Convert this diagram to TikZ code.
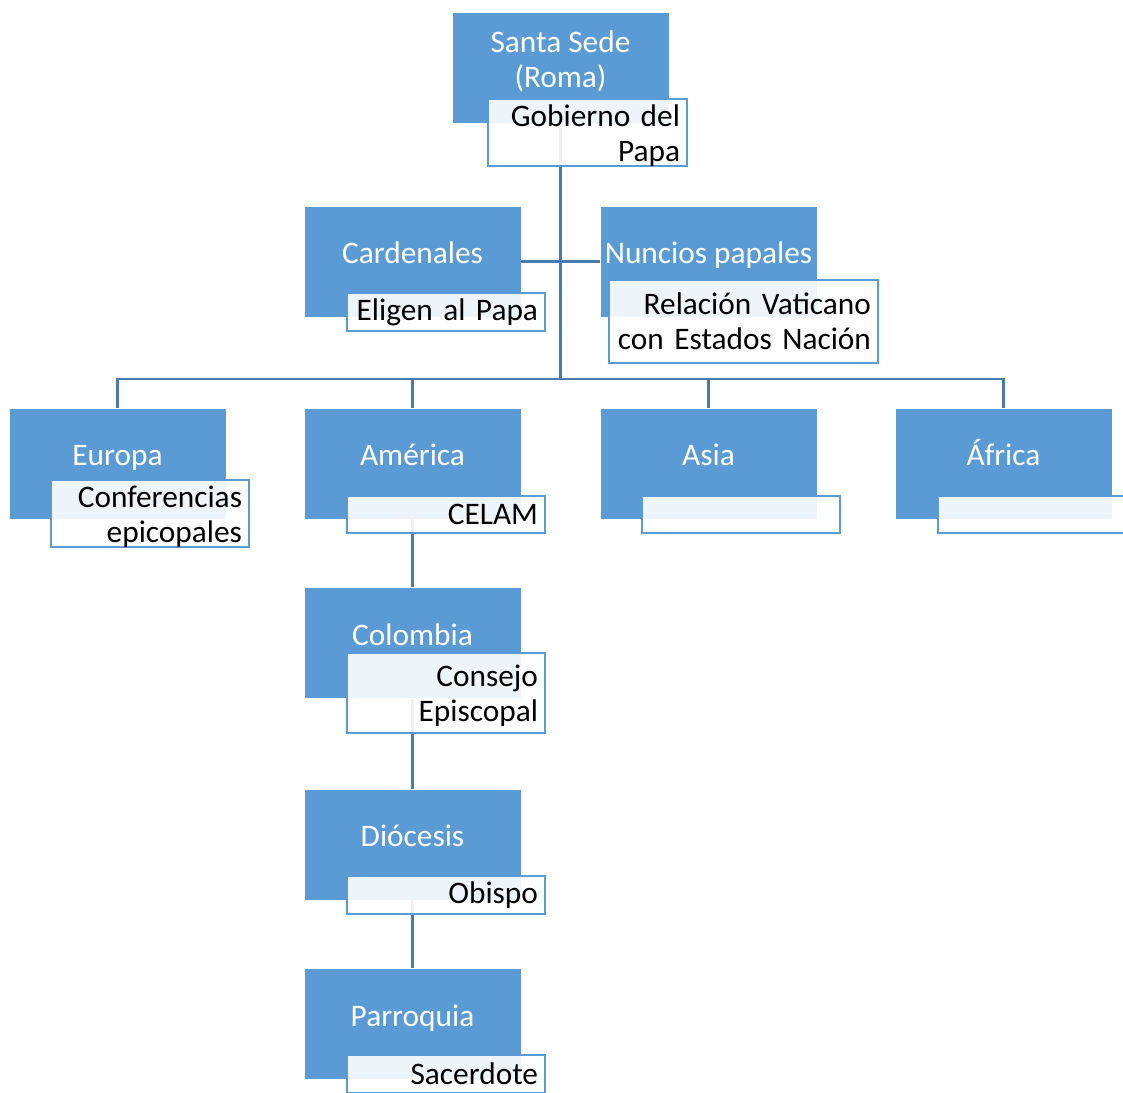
\documentclass[tikz,border=0pt]{standalone}
\usepackage{fontspec}
\setmainfont{Carlito}
\definecolor{accent}{HTML}{5B9BD5}
\definecolor{conn}{HTML}{4A7AB0}
\tikzset{
  bluebox/.style={fill=accent, draw=white, line width=0.5pt, minimum width=162.75pt, minimum height=83.25pt, inner sep=0pt},
  wtext/.style={text=white, font=\fontsize{23.5}{26.25}\selectfont, align=center, inner sep=0pt},
  wtextone/.style={wtext, text height=16pt, text depth=0pt},
  subbox/.style={draw=accent, line width=1.5pt, fill=white, fill opacity=0.9, text opacity=1, align=right, inner xsep=5.25pt, inner ysep=0pt, font=\fontsize{23.5}{26.25}\selectfont, text width=138pt, minimum height=28.5pt},
  subtwo/.style={subbox, text height=20.5pt},
  conline/.style={draw=conn, line width=2pt},
}
\begin{document}
\begin{tikzpicture}[x=0.75pt,y=-0.75pt]
\useasboundingbox (0,0) rectangle (1123,1092);
% blue boxes
\node[bluebox] (sede) at (560.5,67.5) {};
\node[bluebox] (card) at (412.5,261.5) {};
\node[bluebox] (nunc) at (708.5,261.5) {};
\node[bluebox] (euro) at (117.5,463.5) {};
\node[bluebox] (amer) at (412.5,463.5) {};
\node[bluebox] (asia) at (708.5,463.5) {};
\node[bluebox] (afri) at (1003.5,463.5) {};
\node[bluebox] (colo) at (412.5,643) {};
\node[bluebox] (dioc) at (412.5,844.5) {};
\node[bluebox] (parr) at (412.5,1023.5) {};
% connectors
\coordinate (bus) at (560.5,379);
\draw[conline] (sede.south) -- (bus);
\draw[conline] (card.east) -- (nunc.west);
\draw[conline] (euro.north) |- (bus);
\draw[conline] (amer.north) |- (bus);
\draw[conline] (asia.north) |- (bus);
\draw[conline] (afri.north) |- (bus);
\draw[conline] (amer.south) -- (colo.north);
\draw[conline] (colo.south) -- (dioc.north);
\draw[conline] (dioc.south) -- (parr.north);
% titles
\node[wtext] (sedeT) at (560.5,61) {Santa Sede\\(Roma)};
\node[wtextone] (cardT) at (412.5,253) {Cardenales};
\node[wtextone] (nuncT) at (708.5,253) {Nuncios papales};
\node[wtextone] (euroT) at (117.5,455) {Europa};
\node[wtextone] (amerT) at (412.5,455) {América};
\node[wtextone] (asiaT) at (708.5,455) {Asia};
\node[wtextone] (afriT) at (1003.5,455) {África};
\node[wtextone] (coloT) at (412.5,635) {Colombia};
\node[wtextone] (diocT) at (412.5,836) {Diócesis};
\node[wtextone] (parrT) at (412.5,1016) {Parroquia};
% sub boxes
\node[subtwo, text width=138.75pt, minimum height=48.75pt] (sedeS) at (587.5,132.5) {Gobierno del\\Papa};
\node[subbox] (cardS) at (446,312) {Eligen al Papa};
\node[subbox, text width=191.25pt, minimum height=62.25pt] (nuncS) at (743.5,321.5) {Relación Vaticano\\con Estados Nación};
\node[subtwo, minimum height=48.75pt] (euroS) at (150,513.5) {Conferencias\\epicopales};
\node[subbox, minimum height=27.75pt] (amerS) at (446,514.5) {CELAM};
\node[subbox, minimum height=27.75pt] (asiaS) at (741,514.5) {};
\node[subbox, minimum height=27.75pt] (afriS) at (1037,514.5) {};
\node[subtwo, minimum height=60pt] (coloS) at (446,693) {Consejo\\Episcopal};
\node[subbox] (diocS) at (446,895) {Obispo};
\node[subbox] (parrS) at (446,1074) {Sacerdote};
\end{tikzpicture}
\end{document}
